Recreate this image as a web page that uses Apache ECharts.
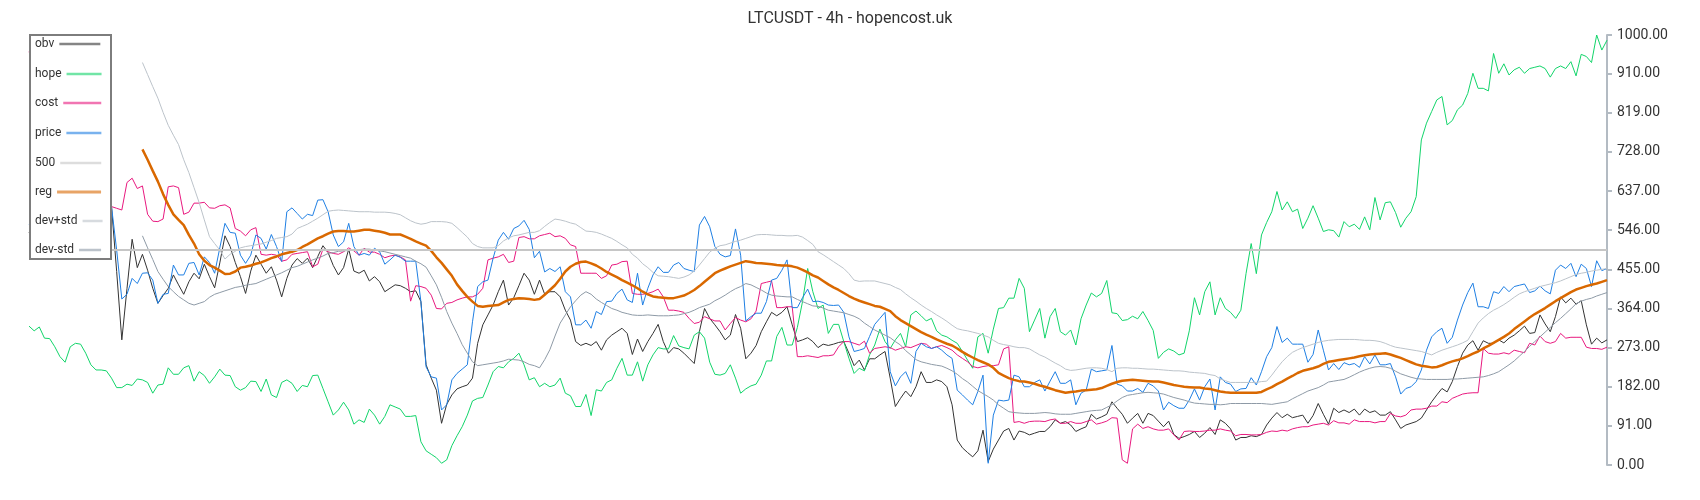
<!DOCTYPE html>
<html>
<head>
<meta charset="utf-8">
<title>LTCUSDT - 4h - hopencost.uk</title>
<script src="https://cdn.jsdelivr.net/npm/echarts@6/dist/echarts.min.js"></script>
<style>
  html, body { margin: 0; padding: 0; background: #fff; }
  #chart { width: 1700px; height: 500px; }
</style>
</head>
<body>
<div id="chart"></div>
<script>
// one value per 4h candle
var hope = [323,312,321,295,294,275,252,239,275,283,
  281,260,233,221,221,219,202,180,180,188,
  185,200,198,192,167,186,188,226,211,211,
  226,231,195,217,208,190,205,223,209,208,
  182,174,180,195,194,171,200,163,157,192,
  198,190,
  171,185,182,208,209,178,147,116,128,146,
  128,95,105,99,130,116,95,113,140,135,
  130,113,113,115,54,33,25,17,4,12,
  45,68,89,116,149,155,157,186,217,229,
  226,240,248,260,233,198,203,182,190,182,
  186,202,167,161,136,136,164,115,175,172,
  192,198,225,248,209,209,240,195,233,256,
  273,270,270,301,277,273,270,302,310,295,
  239,211,209,213,233,202,167,177,184,188,
  209,242,242,299,320,279,279,320,380,457,
  403,
  364,372,306,327,327,287,248,213,225,219,
  256,279,316,287,271,291,306,275,349,358,
  347,335,341,312,302,298,290,283,264,244,
  225,298,306,260,316,364,366,388,388,434,
  411,310,337,364,295,345,364,310,302,314,
  279,340,372,400,391,399,429,354,352,336,
  338,346,340,357,336,313,248,262,270,265,
  256,260,312,389,349,403,426,349,389,364,
  355,341,360,445,515,445,535,564,589,636,
  593,612,589,595,550,574,603,574,543,547,
  545,530,566,554,560,548,577,547,622,570,
  610,612,587,553,574,589,624,756,795,822,
  849,857,791,801,826,837,864,911,876,876,
  870,957,911,933,907,919,925,911,922,925,
  928,922,902,922,928,922,938,905,955,950,
  936,1000,965,988];

var cost = [960,985,1002,940,880,830,790,750,720,690,
  670,650,635,620,610,603,
  601,597,593,657,667,643,649,583,567,566,
  572,647,649,645,583,588,609,609,611,598,
  597,603,605,598,550,544,533,547,552,490,
  488,490,488,474,477,490,
  492,494,496,461,467,502,496,492,490,496,
  505,498,488,504,495,495,490,482,486,488,
  484,477,381,417,415,411,395,364,363,376,
  378,384,388,391,391,397,411,477,481,484,
  490,471,474,529,531,526,526,533,536,539,
  531,533,527,512,508,446,446,446,446,434,
  440,465,467,473,474,399,397,397,399,403,
  409,391,360,360,358,355,341,329,332,345,
  340,335,335,314,329,343,337,333,340,358,
  422,425,428,366,366,368,368,252,252,254,
  252,
  250,254,254,256,275,287,287,283,279,288,
  260,271,273,275,273,267,271,275,273,278,
  283,281,271,275,278,273,267,256,248,240,
  229,226,229,231,231,233,270,275,99,101,
  97,101,102,102,101,105,107,97,97,101,
  97,97,101,105,95,98,102,110,109,12,
  4,84,95,85,89,84,81,81,84,70,
  58,78,79,78,78,79,81,81,84,81,
  79,68,71,71,70,70,71,76,79,78,
  81,79,84,87,89,89,93,95,97,93,
  103,98,98,95,105,101,101,101,98,101,
  101,120,114,112,116,128,130,130,132,137,
  137,147,145,155,160,165,167,168,168,271,
  260,258,258,261,258,267,264,261,283,279,
  300,287,283,287,306,295,297,297,297,274,
  271,271,269,274];

var price = [560,575,590,570,585,600,610,595,605,590,
  600,615,605,595,600,598,
  601,500,386,397,434,422,446,447,430,376,
  397,399,465,442,442,469,471,442,484,471,
  446,505,562,541,539,488,469,488,535,527,
  502,536,508,473,589,598,
  585,572,583,580,616,617,589,535,508,519,
  562,508,488,492,488,504,496,467,477,488,
  483,474,474,474,380,228,205,202,128,140,
  198,213,223,233,333,415,426,430,481,523,
  541,525,550,556,569,548,482,497,449,457,
  450,461,403,391,326,326,337,318,357,350,
  380,381,399,409,384,378,446,372,411,442,
  461,448,448,465,471,457,453,450,558,578,
  554,508,490,484,487,549,488,335,345,353,
  353,380,430,434,453,477,366,366,389,409,
  380,
  381,378,372,371,372,355,298,264,267,271,
  299,327,341,355,217,184,205,217,190,264,
  283,275,271,275,267,256,248,174,163,151,
  140,171,209,4,116,151,149,151,209,205,
  182,182,192,198,172,195,217,190,190,198,
  140,167,174,223,217,219,221,278,188,184,
  172,172,178,169,190,184,172,128,146,138,
  132,132,151,177,151,182,200,128,205,192,
  188,171,177,178,203,186,217,252,273,322,
  285,295,281,281,281,239,257,314,267,221,
  236,222,238,233,236,227,252,235,256,233,
  233,236,205,165,178,182,194,221,267,298,
  310,318,283,297,337,372,401,423,368,368,
  364,403,399,415,403,415,418,421,401,405,
  416,405,398,453,465,457,469,438,467,457,
  415,475,452,457];

var obv = [540,560,575,555,570,590,600,585,595,580,
  590,605,598,590,600,600,
  601,450,291,410,525,459,490,453,411,376,
  394,411,442,419,397,426,446,433,467,438,
  412,470,533,508,471,438,399,451,488,467,
  446,461,430,391,434,465,
  480,469,481,459,485,510,494,464,442,459,
  502,451,446,453,428,438,426,403,411,419,
  417,411,403,405,380,233,202,174,97,141,
  163,177,182,186,202,283,326,349,372,403,
  430,372,389,417,446,430,397,430,397,403,
  403,391,360,337,287,278,283,278,287,267,
  291,302,310,318,306,257,293,264,287,306,
  327,287,260,273,270,260,248,236,310,364,
  341,326,310,291,302,350,318,247,260,278,
  310,333,355,347,355,368,326,287,291,296,
  287,
  273,281,278,281,285,287,260,231,244,221,
  247,247,256,264,202,136,155,172,159,182,
  217,192,192,198,194,182,140,58,40,29,
  19,33,81,8,37,58,79,85,58,79,
  76,70,74,78,78,89,105,97,101,93,
  78,84,89,118,107,112,118,147,132,118,
  97,109,120,97,120,115,102,89,102,71,
  62,66,71,78,64,74,87,71,105,97,
  84,58,64,64,68,66,71,93,109,122,
  110,118,110,113,116,97,115,143,118,95,
  132,122,128,122,130,116,130,122,126,116,
  116,124,105,85,93,97,101,109,128,147,
  163,178,170,194,229,260,279,289,267,289,
  283,283,291,284,295,302,312,323,306,308,
  349,328,310,345,391,377,388,374,382,326,
  281,295,284,291];

// regression and its bands only start once the window is full
var bandStart = 22;
var reg = [734,710,684,659,630,605,583,570,558,535,
  515,490,475,465,459,452,444,445,450,459,
  461,464,468,471,476,481,485,490,493,496,
  500,507,513,520,527,532,538,543,544,544,
  543,543,545,547,547,545,543,540,536,536,
  536,531,526,520,515,510,498,483,470,455,
  440,420,405,391,380,370,368,370,371,372,
  378,384,386,388,387,386,384,386,396,407,
  418,433,450,461,468,472,473,469,464,457,
  449,443,437,430,424,418,411,403,397,392,
  390,389,388,388,391,394,400,407,416,426,
  436,446,452,457,462,466,470,474,472,470,
  469,468,467,465,464,464,462,459,454,448,
  441,
  436,428,420,413,407,400,393,387,382,378,
  374,370,368,363,358,346,337,330,323,316,
  309,303,298,292,287,282,278,271,263,256,
  250,244,239,234,226,214,208,202,198,195,
  194,192,189,185,182,178,174,171,168,170,
  171,173,174,175,176,179,184,189,193,196,
  197,198,197,196,195,194,194,192,189,186,
  184,182,181,180,180,178,177,174,171,169,
  168,168,168,168,168,168,170,176,181,188,
  194,201,207,214,219,222,225,229,235,240,
  242,244,246,248,250,253,255,257,258,259,
  260,257,253,249,244,239,234,231,229,227,
  228,232,237,241,244,248,253,259,264,271,
  277,284,291,298,306,316,325,334,343,351,
  358,365,373,381,388,395,402,408,412,416,
  419,422,426,430];

var devPlus = [936,908,880,853,820,790,767,745,710,680,
  645,610,570,531,515,500,479,490,497,505,
  508,510,512,514,518,522,527,529,531,537,
  550,555,560,567,574,582,590,592,593,592,
  591,590,589,589,589,588,588,588,587,585,
  582,575,568,563,560,562,566,566,566,565,
  562,552,541,530,515,508,505,505,505,510,
  521,528,533,535,538,541,541,545,555,564,
  572,570,567,563,560,552,544,543,541,537,
  532,527,520,512,505,490,481,468,459,448,
  440,439,438,436,434,437,442,451,465,480,
  495,504,510,512,516,520,523,527,531,535,
  536,536,535,534,534,533,533,534,530,522,
  513,
  496,489,481,473,465,457,445,430,427,428,
  428,428,425,422,419,413,408,398,389,381,
  372,364,357,349,342,334,325,317,314,312,
  309,306,302,298,290,283,280,278,275,273,
  273,270,263,256,251,244,237,231,223,220,
  221,223,225,226,226,225,222,217,225,226,
  226,225,225,224,223,223,222,221,220,219,
  219,218,216,215,214,213,210,208,200,196,
  192,192,192,192,192,192,194,195,209,225,
  240,252,262,268,273,277,281,285,288,290,
  291,292,292,292,292,291,290,290,289,287,
  283,278,274,272,270,268,266,264,260,256,
  262,267,271,275,279,284,290,310,330,342,
  352,360,366,373,381,390,398,403,407,411,
  415,418,421,424,428,433,438,443,446,448,
  451,453,455,457];

var devMinus = [533,505,478,450,432,415,403,392,384,376,
  372,376,380,390,397,401,405,409,413,415,
  418,420,422,427,432,437,442,447,453,459,
  462,467,472,477,481,486,492,494,497,498,
  499,500,501,502,502,500,498,496,493,490,
  487,484,481,474,468,460,440,419,390,357,
  330,306,280,260,240,231,233,235,237,239,
  242,246,245,244,240,234,231,226,245,268,
  300,330,349,368,382,395,403,397,386,378,
  371,364,360,355,352,349,348,348,349,348,
  347,347,347,348,349,352,355,360,366,370,
  374,382,388,395,403,410,415,422,419,413,
  407,400,395,393,392,391,391,385,380,375,
  370,
  369,365,360,358,356,354,350,346,340,330,
  322,314,308,302,296,287,279,266,256,245,
  240,237,234,232,230,225,219,211,201,193,
  183,173,166,159,151,140,132,124,122,121,
  120,120,120,121,122,121,119,118,118,118,
  120,122,124,126,127,128,134,140,149,157,
  162,164,166,168,169,168,167,165,161,157,
  154,151,147,144,143,142,141,141,140,141,
  143,143,143,143,143,143,143,142,141,143,
  145,147,154,160,166,172,176,180,186,193,
  195,197,199,204,210,216,221,225,228,229,
  228,225,218,212,208,204,201,200,199,199,
  199,199,199,200,200,201,202,203,204,205,
  208,212,217,225,233,242,253,264,276,287,
  298,309,320,331,341,352,363,375,381,385,
  388,393,397,401];

var level500 = 500;

// y axis ticks: 0.00, 91.00 ... 910.00, 1000.00
var yMin = 0, yMax = 1000, yStep = 91;

var myChart = echarts.init(document.getElementById('chart'));

// shift a band so it lines up with the candles it belongs to
function fromStart(arr) {
  return arr.map(function (v, k) { return [bandStart + k, v]; });
}

function lineSeries(name, data, color, width) {
  return {
    name: name,
    type: 'line',
    data: data,
    color: color,
    symbol: 'none',
    silent: true,
    lineStyle: { color: color, width: width },
    emphasis: { disabled: true }
  };
}

// legend rows: name, x where the icon starts, centre y
var legendRows = [
  ['obv', 60, 45],
  ['hope', 66, 75],
  ['cost', 63, 104],
  ['price', 66, 134],
  ['500', 60, 164],
  ['reg', 57, 193],
  ['dev+std', 81, 222],
  ['dev-std', 79, 251]
];

var option = {
  animation: false,
  textStyle: { fontFamily: 'Roboto' },
  title: {
    text: 'LTCUSDT - 4h - hopencost.uk',
    left: 'center',
    top: 11,
    padding: 0,
    textStyle: { fontSize: 16, fontWeight: 'normal', color: '#333', fontFamily: 'Roboto' }
  },
  grid: { left: 29, right: 93, top: 35, bottom: 35 },
  // white legend box on its own layer, so it hides the lines under it
  graphic: {
    zlevel: 1,
    z: 0,
    elements: [{
      type: 'rect',
      zlevel: 1,
      z: 0,
      silent: true,
      shape: { x: 30, y: 35, width: 81, height: 224 },
      style: { fill: '#fff', stroke: '#7d7d7d', lineWidth: 2 }
    }]
  },
  legend: legendRows.map(function (r) {
    return {
      data: [r[0]],
      orient: 'vertical',
      left: 35,
      top: r[2] - 7,
      padding: 0,
      align: 'right',
      icon: 'rect',
      itemWidth: 101 - r[1],
      itemHeight: r[0] === 'reg' ? 3 : 2.5,
      selectedMode: false,
      zlevel: 1,
      z: 5,
      textStyle: { fontSize: 12, color: '#333', fontFamily: 'Roboto' },
      itemStyle: { opacity: 0.6, borderWidth: 0 }
    };
  }),
  xAxis: {
    type: 'category',
    data: hope.map(function (v, i) { return i; }),
    boundaryGap: false,
    show: false
  },
  yAxis: {
    type: 'value',
    position: 'right',
    min: yMin,
    max: yMax,
    interval: yStep,
    splitLine: { show: false },
    axisLine: { show: true, lineStyle: { color: '#b3bbc3', width: 2 } },
    axisTick: { show: true, length: 5, lineStyle: { color: '#b3bbc3', width: 2 } },
    axisLabel: {
      margin: 10,
      color: '#333',
      fontSize: 14,
      fontFamily: 'Roboto',
      formatter: function (v) { return v.toFixed(2); }
    }
  },
  series: [
    lineSeries('obv', obv, '#333333', 1),
    lineSeries('hope', hope, '#12d46a', 1),
    lineSeries('cost', cost, '#e8197f', 1),
    lineSeries('price', price, '#1f7fe3', 1),
    {
      name: '500',
      type: 'line',
      data: [],
      color: '#c6c6c6',
      symbol: 'none',
      lineStyle: { color: '#c6c6c6', width: 2 },
      markLine: {
        silent: true,
        symbol: 'none',
        label: { show: false },
        lineStyle: { color: '#c6c6c6', width: 2, type: 'solid' },
        data: [{ yAxis: level500 }]
      }
    },
    lineSeries('reg', fromStart(reg), '#d96800', 2.5),
    lineSeries('dev+std', fromStart(devPlus), '#bcc3ca', 1),
    lineSeries('dev-std', fromStart(devMinus), '#8e9aa6', 1)
  ]
};

myChart.setOption(option);
window.onresize = myChart.resize;
</script>
</body>
</html>
